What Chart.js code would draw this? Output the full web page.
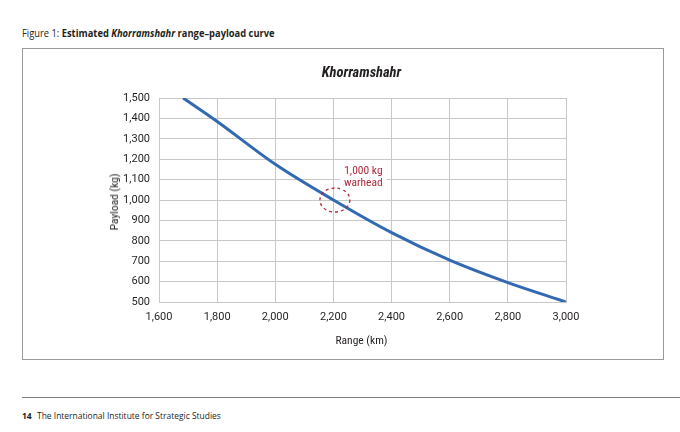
<!DOCTYPE html>
<html>
<head>
<meta charset="utf-8">
<script src="https://cdn.jsdelivr.net/npm/chart.js@4"></script>
<style>
  html, body { margin: 0; padding: 0; background: #fff; }
  body { width: 680px; height: 432px; position: relative; overflow: hidden; font-family: "Open Sans", "Noto Sans", sans-serif; color: #231f20; }
  .caption { position: absolute; left: 22px; top: 26px; font-size: 10.5px; white-space: nowrap; transform: scaleX(0.89); transform-origin: left center; }
  .caption b { font-weight: 700; }
  .frame { position: absolute; left: 22px; top: 48px; width: 640px; height: 310px; border: 1.5px solid #9a9a9a; }
  .plot { position: absolute; left: 0; top: 0; width: 640px; height: 310px; }
  .cond { font-family: Roboto, sans-serif; font-stretch: condensed; color: #231f20; }
  .ctitle { position: absolute; left: -1.5px; top: 15px; width: 680px; text-align: center; font-weight: 700; font-style: italic; font-size: 14.5px; }
  .ytitle { position: absolute; left: 91px; top: 153px; width: 0; height: 0; }
  .ytitle span { display: block; position: absolute; transform: translate(-50%, -50%) rotate(-90deg); white-space: nowrap; font-size: 11.5px; }
  .xtitle { position: absolute; left: -1.5px; top: 284px; width: 680px; text-align: center; font-size: 11.5px; }
  .rule { position: absolute; left: 22px; top: 397px; width: 658px; height: 0; border-top: 1.2px solid #7d7d7d; }
  .footer { position: absolute; left: 22px; top: 409px; font-size: 9.5px; white-space: nowrap; transform: scaleX(0.89); transform-origin: left center; }
  .footer b { margin-right: 6px; }
</style>
</head>
<body>
<div class="caption">Figure 1: <b>Estimated <i>Khorramshahr</i> range–payload curve</b></div>
<div class="frame">
  <div class="plot"><canvas id="payloadChart"></canvas></div>
  <div class="ctitle cond">Khorramshahr</div>
  <div class="ytitle"><span class="cond">Payload (kg)</span></div>
  <div class="xtitle cond">Range (km)</div>
</div>
<div class="rule"></div>
<div class="footer"><b>14</b>The International Institute for Strategic Studies</div>

<script>
// datos
const rangeKm   = [1683, 1800, 2000, 2200, 2400, 2600, 2800, 3000];
const payloadKg = [1500, 1385, 1175, 1000, 840, 705, 595, 500];

const xTicks = [1600, 1800, 2000, 2200, 2400, 2600, 2800, 3000];
const yTicks = [500, 600, 700, 800, 900, 1000, 1100, 1200, 1300, 1400, 1500];

// anotación "1,000 kg warhead"
const warheadPoint = { x: 2205, y: 1000 };
const warheadLabel = { x: 2303, y: 1114, lines: ['1,000 kg', 'warhead'] };

const red = '#b0283c';

// plugin para dibujar el círculo punteado y la etiqueta
const warheadPlugin = {
    id: 'warhead',
    afterDatasetsDraw(chart) {
        const { ctx, scales } = chart;
        const cx = scales.x.getPixelForValue(warheadPoint.x);
        const cy = scales.y.getPixelForValue(warheadPoint.y);
        ctx.save();
        ctx.strokeStyle = red;
        ctx.lineWidth = 1.3;
        ctx.setLineDash([3, 3]);
        ctx.beginPath();
        ctx.ellipse(cx, cy, 15, 12, 0, 0, Math.PI * 2);
        ctx.stroke();
        ctx.setLineDash([]);

        const lx = scales.x.getPixelForValue(warheadLabel.x);
        const ly = scales.y.getPixelForValue(warheadLabel.y);
        ctx.font = 'normal condensed 11.5px Roboto';
        const w = Math.max(...warheadLabel.lines.map(t => ctx.measureText(t).width));
        ctx.fillStyle = '#fff';
        ctx.fillRect(lx - w / 2 - 4, ly - 13, w + 8, 26);
        ctx.fillStyle = red;
        ctx.textAlign = 'center';
        ctx.textBaseline = 'middle';
        ctx.fillText(warheadLabel.lines[0], lx, ly - 6);
        ctx.fillText(warheadLabel.lines[1], lx, ly + 6);
        ctx.restore();
    }
};

const tickFont = { family: 'Roboto', size: 11, style: 'normal condensed' };

new Chart(document.getElementById('payloadChart'), {
    type: 'line',
    data: {
        datasets: [{
            data: rangeKm.map((r, i) => ({ x: r, y: payloadKg[i] })),
            borderColor: '#3369b0',
            borderWidth: 3,
            pointRadius: 0,
            cubicInterpolationMode: 'monotone',
            fill: false
        }]
    },
    options: {
        responsive: true,
        maintainAspectRatio: false,
        animation: false,
        layout: { padding: { top: 49, right: 97, left: 0, bottom: 0 } },
        plugins: { legend: { display: false }, tooltip: { enabled: false } },
        scales: {
            x: {
                type: 'linear',
                min: 1600,
                max: 3000,
                afterBuildTicks: s => { s.ticks = xTicks.map(v => ({ value: v })); },
                afterFit: s => { s.height = 57; },
                grid: { color: '#c8c8c8', lineWidth: 1, drawTicks: false },
                border: { color: '#c8c8c8' },
                ticks: {
                    padding: 9,
                    color: '#231f20',
                    font: tickFont,
                    callback: v => v.toLocaleString('en-US')
                }
            },
            y: {
                min: 500,
                max: 1500,
                afterBuildTicks: s => { s.ticks = yTicks.map(v => ({ value: v })); },
                afterFit: s => { s.width = 136; },
                grid: { color: '#c8c8c8', lineWidth: 1, drawTicks: false },
                border: { color: '#c8c8c8' },
                ticks: {
                    padding: 9,
                    color: '#231f20',
                    font: tickFont,
                    callback: v => v.toLocaleString('en-US')
                }
            }
        }
    },
    plugins: [warheadPlugin]
});
</script>
</body>
</html>
